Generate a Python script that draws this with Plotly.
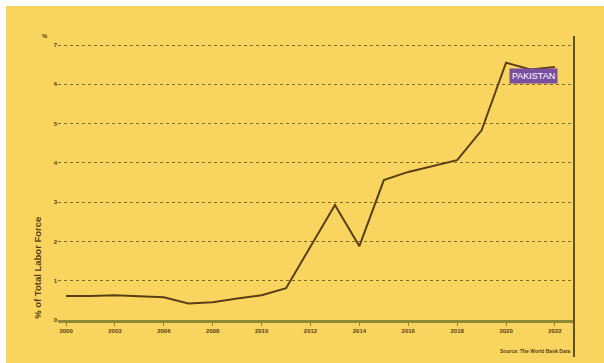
import plotly.graph_objects as go

# Unemployment, % of total labour force
years = ["2000", "2002", "2003", "2004", "2006", "2007", "2008", "2009", "2010", "2011",
         "2012", "2013", "2014", "2015", "2016", "2017", "2018", "2019", "2020", "2021", "2022"]
values = [0.61, 0.61, 0.63, 0.61, 0.58, 0.42, 0.45, 0.55, 0.63, 0.81,
          1.88, 2.93, 1.88, 3.56, 3.77, 3.92, 4.07, 4.83, 6.55, 6.38, 6.44]
tick_years = ["2000", "2003", "2006", "2008", "2010", "2012", "2014", "2016", "2018", "2020", "2022"]
y_ticks = [0, 1, 2, 3, 4, 5, 6, 7]

YELLOW = "#F9D55F"
INK = "#5a3f14"
GRID = "#7d6a2c"
AXIS = "#8e8a36"
FONT = "Liberation Sans"

fig = go.Figure()
fig.add_trace(go.Scatter(
    x=years, y=values, mode="lines",
    line=dict(color=INK, width=2),
    hoverinfo="skip", showlegend=False,
))

fig.update_layout(
    width=604, height=363,
    margin=dict(l=58, r=30, t=36, b=43),
    paper_bgcolor=YELLOW, plot_bgcolor=YELLOW,
    font=dict(family=FONT, color=INK),
    xaxis=dict(
        type="category", categoryorder="array", categoryarray=years,
        range=[-0.33, 20.78],
        tickmode="array", tickvals=tick_years, ticktext=tick_years,
        showgrid=False, zeroline=False,
        showline=True, linecolor=AXIS, linewidth=3,
        ticks="outside", ticklen=3, tickcolor=AXIS,
        tickfont=dict(size=6, color=INK, family=FONT, weight="bold"),
    ),
    yaxis=dict(
        range=[0, 7.23],
        tickmode="array", tickvals=y_ticks,
        showgrid=True, gridcolor=GRID, gridwidth=1, griddash="dot",
        zeroline=False, showline=False,
        ticks="", tickfont=dict(size=6, color=INK, family=FONT, weight="bold"),
    ),
    shapes=[
        # white margin along the top and left edges
        dict(type="rect", xref="paper", yref="paper", x0=-0.2, x1=1.2, y0=1.106, y1=1.3,
             fillcolor="white", line=dict(width=0), layer="below"),
        dict(type="rect", xref="paper", yref="paper", x0=-0.2, x1=-0.1008, y0=-0.3, y1=1.3,
             fillcolor="white", line=dict(width=0), layer="below"),
        # right border rule
        dict(type="line", xref="paper", yref="paper", x0=1.0, x1=1.0, y0=-0.13, y1=1.0,
             line=dict(color="#5c5220", width=2)),
    ],
    annotations=[
        dict(text="PAKISTAN", x=19.12, y=6.2, xref="x", yref="y", showarrow=False,
             bgcolor="#7b4f9f", font=dict(color="white", size=9, family=FONT),
             borderpad=2),
        dict(text="<b>% of Total Labor Force</b>", textangle=-90, x=-0.041, y=0.183,
             xref="paper", yref="paper", xanchor="center", yanchor="middle",
             showarrow=False, font=dict(size=9.5, color=INK, family=FONT)),
        dict(text="<b>%</b>", x=-0.025, y=1.0, xref="paper", yref="paper",
             xanchor="center", yanchor="middle", showarrow=False,
             font=dict(size=6, color=INK, family=FONT)),
        dict(text="<b>Source: The World Bank Data</b>", x=0.997, y=-0.128, xref="paper",
             yref="paper", xanchor="right", showarrow=False,
             font=dict(size=5, color=INK, family=FONT)),
    ],
)

fig.write_html("out.html")
